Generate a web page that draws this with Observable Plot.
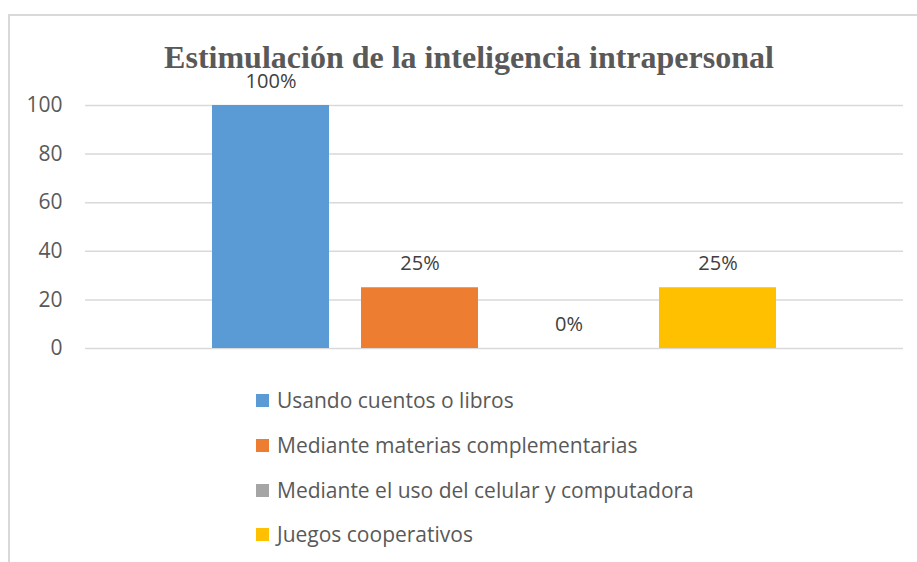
<!DOCTYPE html>
<html>
<head>
<meta charset="utf-8">
<script src="https://cdn.jsdelivr.net/npm/d3@7"></script>
<script src="https://cdn.jsdelivr.net/npm/@observablehq/plot@0.6"></script>
<style>
  body { margin: 0; background: #fff; }
  #wrap { position: relative; width: 917px; height: 562px; overflow: hidden; font-family: "Open Sans", sans-serif; }
  #frame { position: absolute; left: 8px; top: 14px; width: 1000px; height: 600px; border-top: 2px solid #d9d9d9; border-left: 2px solid #d9d9d9; }
  #title { position: absolute; left: 0; width: 938px; top: 36px; text-align: center; font-family: "Liberation Serif", "Times New Roman", serif; font-weight: bold; font-size: 32px; color: #595959; line-height: 42px; }
  #chart { position: absolute; left: 0; top: 60px; }
  #legend { position: absolute; left: 256px; top: 0; }
  .item { position: absolute; left: 0; white-space: nowrap; font-size: 21px; color: #595959; line-height: 28px; }
  .sw { position: absolute; left: 0; top: 8px; width: 13px; height: 13px; }
  .lab { position: absolute; left: 21px; top: 0; }
</style>
</head>
<body>
<div id="wrap">
  <div id="frame"></div>
  <div id="title">Estimulación de la inteligencia intrapersonal</div>
  <div id="chart"></div>
  <div id="legend"></div>
</div>
<script>
const categories = ["Usando cuentos o libros", "Mediante materias complementarias", "Mediante el uso del celular y computadora", "Juegos cooperativos"];
const values = [100, 25, 0, 25];
const colors = ["#5B9BD5", "#ED7D31", "#A5A5A5", "#FFC000"];
const yTicks = [0, 20, 40, 60, 80, 100];

const data = categories.map((c, i) => ({cat: c, value: values[i]}));

const plot = Plot.plot({
  width: 917,
  height: 310,
  marginLeft: 85,
  marginRight: 14,
  marginTop: 45,
  marginBottom: 22,
  x: {domain: categories, axis: null, padding: 0.215, paddingOuter: 0.852},
  y: {domain: [0, 100], axis: null},
  color: {domain: categories, range: colors},
  marks: [
    Plot.ruleY(yTicks, {stroke: "#d9d9d9", strokeWidth: 1.5}),
    Plot.axisY({ticks: yTicks, tickSize: 0, tickPadding: 23, fontSize: 21, fill: "#595959", label: null}),
    Plot.barY(data, {x: "cat", y: "value", fill: "cat"}),
    Plot.text(data, {x: "cat", y: "value", text: d => d.value + "%", dy: -24, fontSize: 20, fill: "#404040"})
  ],
  style: {fontFamily: "'Open Sans', sans-serif", background: "transparent", overflow: "visible"}
});
document.getElementById("chart").appendChild(plot);

const legend = document.getElementById("legend");
const rowCenters = [400, 445, 490, 534];
categories.forEach((c, i) => {
  const item = document.createElement("div");
  item.className = "item";
  item.style.top = (rowCenters[i] - 14) + "px";
  item.innerHTML = `<div class="sw" style="background:${colors[i]}"></div><div class="lab">${c}</div>`;
  legend.appendChild(item);
});
</script>
</body>
</html>
